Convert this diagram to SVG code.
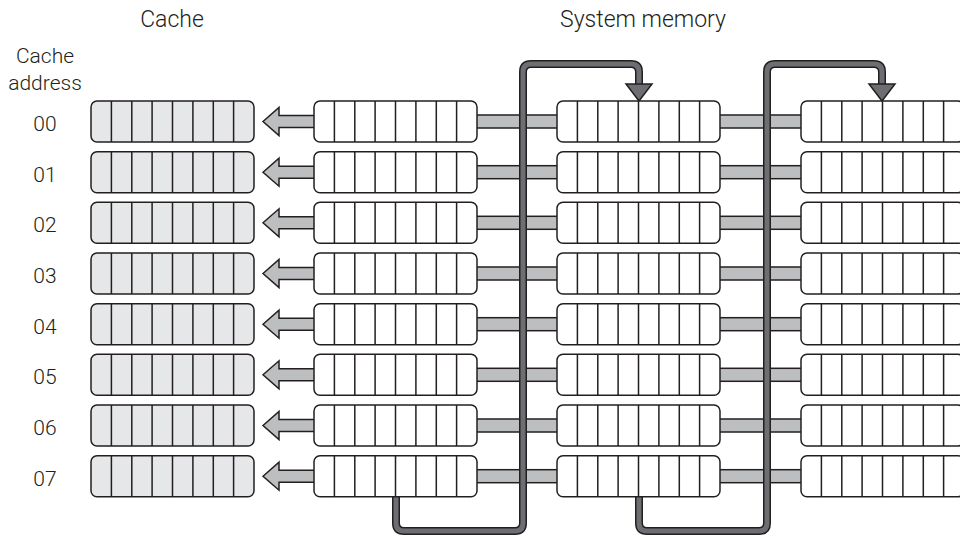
<svg xmlns="http://www.w3.org/2000/svg" xmlns:xlink="http://www.w3.org/1999/xlink" width="960" height="536" viewBox="0 0 960 536">
  <style>
    .title { font-family: Roboto, "Liberation Sans", sans-serif; font-weight: 300; font-size: 23px; fill: #231f20; text-anchor: middle; }
    .lbl { font-family: Roboto, "Liberation Sans", sans-serif; font-weight: 300; font-size: 21px; fill: #231f20; text-anchor: middle; }
    .frame { stroke: #231f20; stroke-width: 1.5; }
    .cell { fill: none; stroke: #231f20; stroke-width: 1.5; }
    .cache { fill: #e6e7e8; }
    .mem { fill: #ffffff; }
    .bar { fill: #bcbec0; stroke: #231f20; stroke-width: 1.5; }
    .link-out { fill: none; stroke: #231f20; stroke-width: 8; }
    .link-in { fill: none; stroke: #6d6e71; stroke-width: 5; }
    .head { fill: #6d6e71; stroke: #231f20; stroke-width: 1.5; stroke-linejoin: miter; }
  </style>
  <defs>
    <!-- 8-cell register row; fill comes from the referencing group -->
    <g id="reg">
      <rect class="frame" x="0" y="0" width="163" height="41" rx="6" ry="6"/>
      <path class="cell" d="M20.4,0V41M40.8,0V41M61.1,0V41M81.5,0V41M101.9,0V41M122.3,0V41M142.6,0V41"/>
    </g>
    <!-- left-pointing copy arrow -->
    <path id="copy" d="M263,0 L279,-14 L279,-6 L316,-6 L316,6 L279,6 L279,14 Z"/>
  </defs>

  <text class="title" x="172" y="27">Cache</text>
  <text class="title" x="643" y="27">System memory</text>
  <text class="lbl" x="45" y="63">Cache</text>
  <text class="lbl" x="45" y="90">address</text>
  <g class="lbl-addr">
    <text class="lbl" x="45" y="131">00</text>
    <text class="lbl" x="45" y="181.7">01</text>
    <text class="lbl" x="45" y="232.3">02</text>
    <text class="lbl" x="45" y="283">03</text>
    <text class="lbl" x="45" y="333.7">04</text>
    <text class="lbl" x="45" y="384.3">05</text>
    <text class="lbl" x="45" y="435">06</text>
    <text class="lbl" x="45" y="485.7">07</text>
  </g>

  <g id="connectors">
    <!-- copy arrows memory -> cache -->
    <g class="bar">
      <use xlink:href="#copy" y="121.5"/>
      <use xlink:href="#copy" y="172.2"/>
      <use xlink:href="#copy" y="222.8"/>
      <use xlink:href="#copy" y="273.5"/>
      <use xlink:href="#copy" y="324.2"/>
      <use xlink:href="#copy" y="374.8"/>
      <use xlink:href="#copy" y="425.5"/>
      <use xlink:href="#copy" y="476.2"/>
    </g>
    <!-- links between memory blocks -->
    <g class="bar">
      <rect x="476" y="115" width="82" height="13"/>
      <rect x="476" y="165.7" width="82" height="13"/>
      <rect x="476" y="216.3" width="82" height="13"/>
      <rect x="476" y="267" width="82" height="13"/>
      <rect x="476" y="317.7" width="82" height="13"/>
      <rect x="476" y="368.3" width="82" height="13"/>
      <rect x="476" y="419" width="82" height="13"/>
      <rect x="476" y="469.7" width="82" height="13"/>
      <rect x="719" y="115" width="83" height="13"/>
      <rect x="719" y="165.7" width="83" height="13"/>
      <rect x="719" y="216.3" width="83" height="13"/>
      <rect x="719" y="267" width="83" height="13"/>
      <rect x="719" y="317.7" width="83" height="13"/>
      <rect x="719" y="368.3" width="83" height="13"/>
      <rect x="719" y="419" width="83" height="13"/>
      <rect x="719" y="469.7" width="83" height="13"/>
    </g>
    <!-- wrap-around from end of one block to start of the next -->
    <g id="wrap1">
      <path class="link-out" d="M396,495 V523 Q396,531 404,531 H515 Q523,531 523,523 V72 Q523,64 531,64 H631 Q639,64 639,72 V86"/>
      <path class="link-in" d="M396,495 V523 Q396,531 404,531 H515 Q523,531 523,523 V72 Q523,64 531,64 H631 Q639,64 639,72 V86"/>
      <path class="head" d="M626,84 L652,84 L639,101 Z"/>
    </g>
    <g id="wrap2">
      <path class="link-out" d="M639,495 V523 Q639,531 647,531 H759 Q767,531 767,523 V72 Q767,64 775,64 H874 Q882,64 882,72 V86"/>
      <path class="link-in" d="M639,495 V523 Q639,531 647,531 H759 Q767,531 767,523 V72 Q767,64 775,64 H874 Q882,64 882,72 V86"/>
      <path class="head" d="M869,84 L895,84 L882,101 Z"/>
    </g>
  </g>

  <g id="cache" class="cache">
    <g id="cache-00"><use xlink:href="#reg" x="91" y="101"/></g>
    <g id="cache-01"><use xlink:href="#reg" x="91" y="151.7"/></g>
    <g id="cache-02"><use xlink:href="#reg" x="91" y="202.3"/></g>
    <g id="cache-03"><use xlink:href="#reg" x="91" y="253"/></g>
    <g id="cache-04"><use xlink:href="#reg" x="91" y="303.7"/></g>
    <g id="cache-05"><use xlink:href="#reg" x="91" y="354.3"/></g>
    <g id="cache-06"><use xlink:href="#reg" x="91" y="405"/></g>
    <g id="cache-07"><use xlink:href="#reg" x="91" y="455.7"/></g>
  </g>

  <g id="memory-a" class="mem">
    <g id="mem-a0"><use xlink:href="#reg" x="314" y="101"/></g>
    <g id="mem-a1"><use xlink:href="#reg" x="314" y="151.7"/></g>
    <g id="mem-a2"><use xlink:href="#reg" x="314" y="202.3"/></g>
    <g id="mem-a3"><use xlink:href="#reg" x="314" y="253"/></g>
    <g id="mem-a4"><use xlink:href="#reg" x="314" y="303.7"/></g>
    <g id="mem-a5"><use xlink:href="#reg" x="314" y="354.3"/></g>
    <g id="mem-a6"><use xlink:href="#reg" x="314" y="405"/></g>
    <g id="mem-a7"><use xlink:href="#reg" x="314" y="455.7"/></g>
  </g>

  <g id="memory-b" class="mem">
    <g id="mem-b0"><use xlink:href="#reg" x="557" y="101"/></g>
    <g id="mem-b1"><use xlink:href="#reg" x="557" y="151.7"/></g>
    <g id="mem-b2"><use xlink:href="#reg" x="557" y="202.3"/></g>
    <g id="mem-b3"><use xlink:href="#reg" x="557" y="253"/></g>
    <g id="mem-b4"><use xlink:href="#reg" x="557" y="303.7"/></g>
    <g id="mem-b5"><use xlink:href="#reg" x="557" y="354.3"/></g>
    <g id="mem-b6"><use xlink:href="#reg" x="557" y="405"/></g>
    <g id="mem-b7"><use xlink:href="#reg" x="557" y="455.7"/></g>
  </g>

  <g id="memory-c" class="mem">
    <g id="mem-c0"><use xlink:href="#reg" x="801" y="101"/></g>
    <g id="mem-c1"><use xlink:href="#reg" x="801" y="151.7"/></g>
    <g id="mem-c2"><use xlink:href="#reg" x="801" y="202.3"/></g>
    <g id="mem-c3"><use xlink:href="#reg" x="801" y="253"/></g>
    <g id="mem-c4"><use xlink:href="#reg" x="801" y="303.7"/></g>
    <g id="mem-c5"><use xlink:href="#reg" x="801" y="354.3"/></g>
    <g id="mem-c6"><use xlink:href="#reg" x="801" y="405"/></g>
    <g id="mem-c7"><use xlink:href="#reg" x="801" y="455.7"/></g>
  </g>
</svg>
